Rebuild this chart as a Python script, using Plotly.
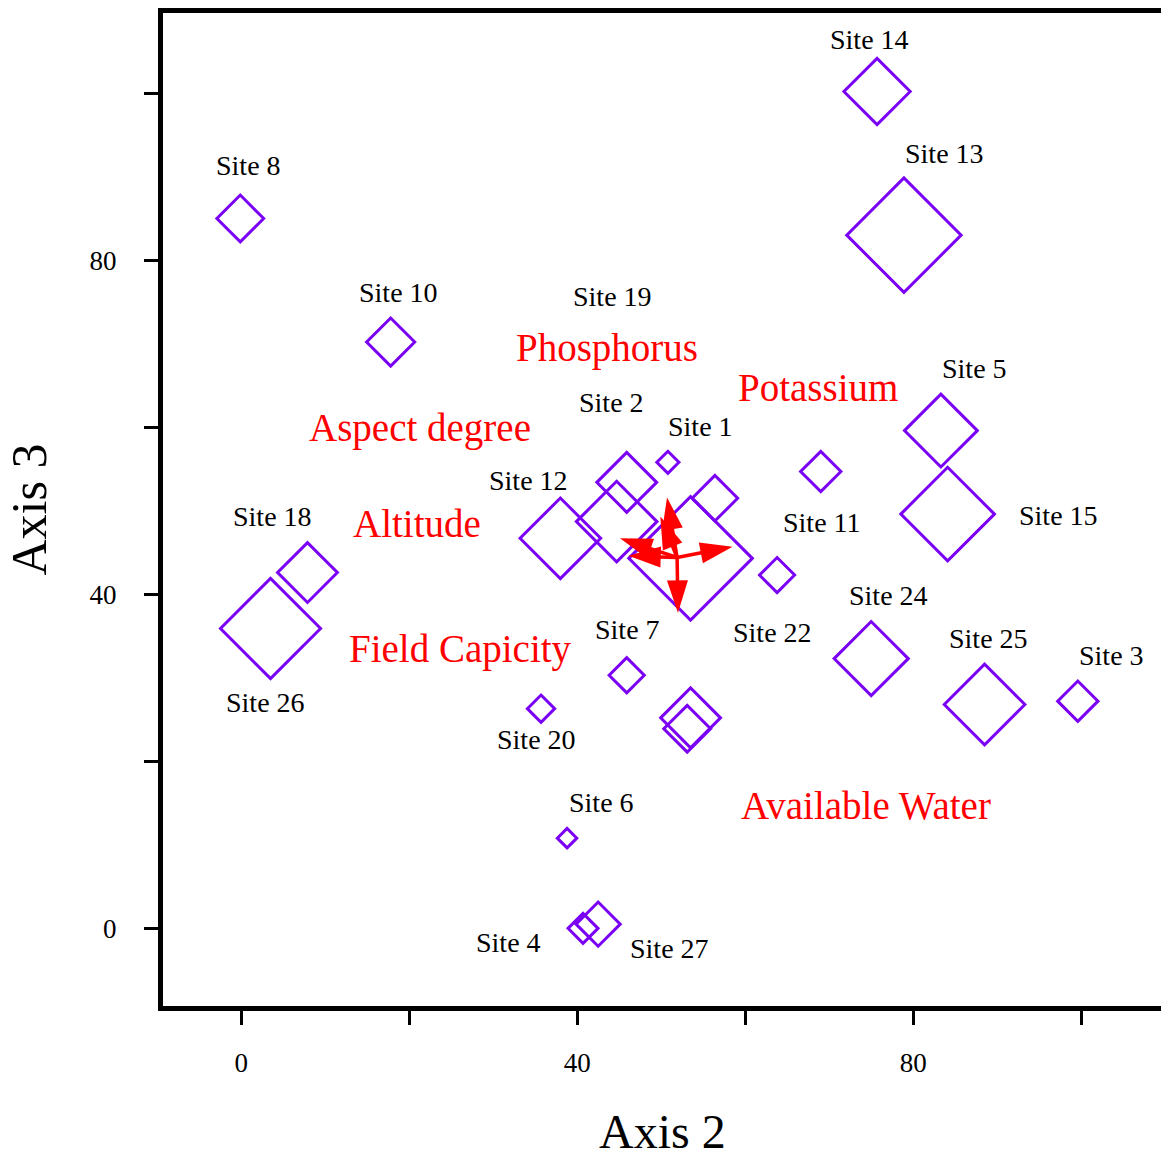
import plotly.graph_objects as go

# site scores (Axis 2, Axis 3) and symbol sizes
site_names = ["Site 1", "Site 2", "Site 3", "Site 4", "Site 5", "Site 6", "Site 7", "Site 8",
              "Site 9", "Site 10", "Site 11", "Site 12", "Site 13", "Site 14", "Site 15",
              "Site 16", "Site 17", "Site 18", "Site 20", "Site 21", "Site 22", "Site 23",
              "Site 24", "Site 25", "Site 26", "Site 27"]
site_x = [50.8, 45.9, 99.6, 40.7, 83.3, 38.8, 45.9, -0.1,
          44.7, 17.8, 69.0, 38.0, 78.9, 75.7, 84.1,
          56.4, 53.5, 7.9, 35.7, 53.5, 63.8, 53.1,
          75.0, 88.5, 3.5, 42.5]
site_y = [55.8, 53.4, 27.2, 0.0, 59.6, 10.8, 30.3, 85.0,
          48.7, 70.2, 54.7, 46.7, 83.0, 100.2, 49.6,
          51.5, 44.3, 42.6, 26.3, 25.2, 42.3, 23.9,
          32.3, 26.8, 35.9, 0.5]
site_size = [17, 46, 31, 23, 56, 15, 27, 36,
             62, 37, 31, 62, 88, 51, 72,
             35, 95, 46, 21, 46, 27, 36,
             57, 62, 77, 34]
# which sites carry a label, and label offset in px (dx, dy)
label_offset = {
    "Site 1": (33, 36), "Site 2": (-15, 80), "Site 3": (34, 46), "Site 4": (-75, -14),
    "Site 5": (34, 62), "Site 6": (34, 36), "Site 7": (1, 46), "Site 8": (8, 53),
    "Site 10": (8, 50), "Site 11": (1, -51), "Site 12": (-32, 58), "Site 13": (41, 82),
    "Site 14": (-8, 52), "Site 15": (111, -1), "Site 18": (-35, 56), "Site 20": (-5, -31),
    "Site 22": (-5, -57), "Site 24": (17, 63), "Site 25": (4, 66), "Site 26": (-5, -74),
    "Site 27": (71, -24),
}
# Site 19 label only
extra_label = ("Site 19", 44.2, 75.7)

# environmental vectors
origin = (51.9, 44.4)
var_names = ["Phosphorus", "Potassium", "Aspect degree", "Altitude", "Field Capicity", "Available Water"]
var_tip_x = [50.7, 58.5, 45.1, 49.9, 46.1, 52.0]
var_tip_y = [51.6, 45.7, 46.7, 49.3, 44.6, 37.8]
var_label_x = [43.6, 68.7, 21.3, 20.9, 26.1, 74.4]
var_label_y = [69.5, 64.7, 59.9, 48.5, 33.5, 14.7]

serif = "Liberation Serif, Times New Roman, serif"
purple = "#7A00F5"

fig = go.Figure()
fig.add_trace(go.Scatter(
    x=site_x, y=site_y, mode="markers",
    marker=dict(symbol="diamond-open", size=site_size, color=purple, opacity=1,
                line=dict(width=3, color=purple)),
    hoverinfo="text", text=site_names, showlegend=False))

for n, x, y in zip(site_names, site_x, site_y):
    if n in label_offset:
        dx, dy = label_offset[n]
        fig.add_annotation(x=x, y=y, text=n, showarrow=False, xshift=dx, yshift=dy,
                           font=dict(family=serif, size=28, color="black"))
fig.add_annotation(x=extra_label[1], y=extra_label[2], text=extra_label[0], showarrow=False,
                   font=dict(family=serif, size=28, color="black"))

# biplot arrows
for n, tx, ty in zip(var_names, var_tip_x, var_tip_y):
    fig.add_trace(go.Scatter(
        x=[origin[0], tx], y=[origin[1], ty], mode="lines+markers",
        line=dict(color="red", width=3.5),
        marker=dict(symbol="arrow", angleref="previous", size=[0, 34], color="red",
                    opacity=1, line=dict(width=0)),
        hoverinfo="text", text=["", n], showlegend=False))

for n, x, y in zip(var_names, var_label_x, var_label_y):
    fig.add_annotation(x=x, y=y, text=n, showarrow=False,
                       font=dict(family=serif, size=39, color="red"))

# axis titles
fig.add_annotation(x=0.5, y=0, xref="paper", yref="paper", xanchor="center", yanchor="middle",
                   yshift=-125, showarrow=False,
                   text="Axis 2", font=dict(family=serif, size=48, color="black"))
fig.add_annotation(x=0, y=0.5, xref="paper", yref="paper", xanchor="center", yanchor="middle",
                   xshift=-135, showarrow=False,
                   text="Axis 3", textangle=-90, font=dict(family=serif, size=50, color="black"))

axis_common = dict(
    tickvals=[0, 20, 40, 60, 80, 100], ticktext=["0", "", "40", "", "80", ""],
    ticks="outside", ticklen=14, tickwidth=2.5, tickcolor="black",
    showline=True, linewidth=5, linecolor="black", mirror=True,
    showgrid=False, zeroline=False, automargin=False,
    tickfont=dict(family=serif, size=27, color="black"),
)
fig.update_xaxes(range=[-9.3, 109.5], ticklabelstandoff=15, **axis_common)
fig.update_yaxes(range=[-9.3, 109.6], ticklabelstandoff=22, **axis_common)
fig.update_layout(width=1161, height=1146, margin=dict(l=155, r=8, t=5, b=148),
                  plot_bgcolor="white", paper_bgcolor="white")
fig.write_html("out.html")
